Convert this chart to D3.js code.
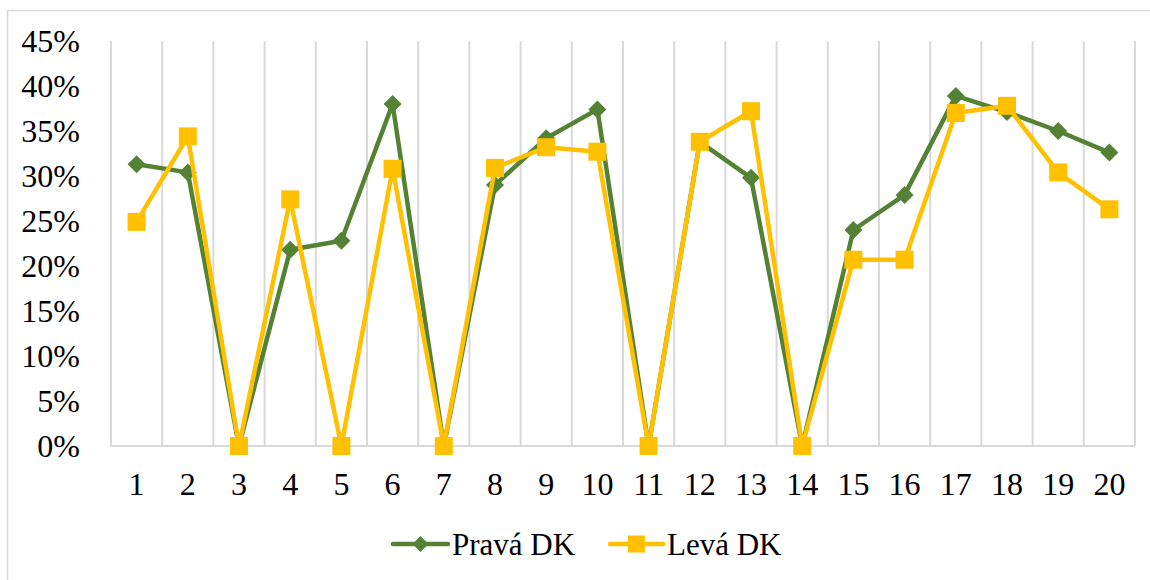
<!DOCTYPE html>
<html>
<head>
<meta charset="utf-8">
<script src="https://cdn.jsdelivr.net/npm/d3@7"></script>
<style>
  html, body { margin: 0; padding: 0; background: #fff; }
  svg { display: block; }
  text { font-family: "Liberation Serif", "Times New Roman", serif; fill: #000; }
</style>
</head>
<body>
<svg id="chart" width="1150" height="580"></svg>
<script>
const categories = ["1","2","3","4","5","6","7","8","9","10","11","12","13","14","15","16","17","18","19","20"];
const pravaDK = [31.3, 30.4, 0, 21.8, 22.8, 38.0, 0, 29.0, 34.2, 37.4, 0, 33.8, 29.8, 0, 24.0, 27.9, 38.9, 37.1, 35.0, 32.6];
const levaDK  = [24.9, 34.4, 0, 27.4, 0, 30.8, 0, 30.9, 33.2, 32.7, 0, 33.8, 37.2, 0, 20.7, 20.7, 37.0, 37.8, 30.4, 26.3];
const yTicks = [0, 5, 10, 15, 20, 25, 30, 35, 40, 45];
const seriesNames = ["Pravá DK", "Levá DK"];

const svg = d3.select("#chart");
const pLeft = 111, pRight = 1135, pTop = 41, pBottom = 446;
const green = "#548235", yellow = "#FFC000", grid = "#D9D9D9";

// chart border
svg.append("rect").attr("x", 7.5).attr("y", 10.5).attr("width", 1200).attr("height", 700)
  .attr("fill", "none").attr("stroke", grid).attr("stroke-width", 1.5);

const x = d3.scaleBand().domain(categories).range([pLeft, pRight]).padding(0);
const y = d3.scaleLinear().domain([0, 45]).range([pBottom, pTop]);

// vertical gridlines at category boundaries
const bounds = categories.map(c => x(c)).concat([pRight]);
svg.append("g").selectAll("line").data(bounds).join("line")
  .attr("x1", d => d).attr("x2", d => d).attr("y1", pTop).attr("y2", pBottom)
  .attr("stroke", grid).attr("stroke-width", 2);

// x axis line
svg.append("line").attr("x1", pLeft).attr("x2", pRight).attr("y1", pBottom).attr("y2", pBottom)
  .attr("stroke", grid).attr("stroke-width", 2);

// y axis labels
const yAxis = d3.axisLeft(y).tickValues(yTicks).tickFormat(d => d + "%").tickSize(0).tickPadding(0);
const gy = svg.append("g").attr("transform", "translate(80,0)").call(yAxis);
gy.select(".domain").remove();
gy.selectAll("text").attr("font-size", 32).attr("font-family", "Liberation Serif").attr("fill", "#000").attr("dy", "0.33em");

// x axis labels
const xAxis = d3.axisBottom(x).tickSize(0).tickPadding(0);
const gx = svg.append("g").attr("transform", `translate(0,${pBottom})`).call(xAxis);
gx.select(".domain").remove();
gx.selectAll("text").attr("font-size", 32).attr("font-family", "Liberation Serif").attr("fill", "#000").attr("dy", null).attr("y", 49);

const cx = c => x(c) + x.bandwidth() / 2;
const line = d3.line().x((d, i) => cx(categories[i])).y(d => y(d));

function diamond(g, px, py, r, color) {
  g.append("path").attr("d", `M${px},${py - r}L${px + r},${py}L${px},${py + r}L${px - r},${py}Z`).attr("fill", color);
}
function square(g, px, py, s, color) {
  g.append("rect").attr("x", px - s / 2).attr("y", py - s / 2).attr("width", s).attr("height", s).attr("fill", color);
}

// green series
const gG = svg.append("g");
gG.append("path").datum(pravaDK).attr("d", line).attr("fill", "none").attr("stroke", green)
  .attr("stroke-width", 4.5).attr("stroke-linejoin", "round");
pravaDK.forEach((v, i) => diamond(gG, cx(categories[i]), y(v), 9, green));

// yellow series
const gY = svg.append("g");
gY.append("path").datum(levaDK).attr("d", line).attr("fill", "none").attr("stroke", yellow)
  .attr("stroke-width", 4.5).attr("stroke-linejoin", "round");
levaDK.forEach((v, i) => square(gY, cx(categories[i]), y(v), 18, yellow));

// legend
const lg = svg.append("g");
const ly = 544;
lg.append("line").attr("x1", 393).attr("x2", 448).attr("y1", ly).attr("y2", ly).attr("stroke", green).attr("stroke-width", 4.5).attr("stroke-linecap", "round");
diamond(lg, 420.5, ly, 8, green);
lg.append("text").attr("x", 452).attr("y", 555).attr("font-size", 31).text(seriesNames[0]);
lg.append("line").attr("x1", 610).attr("x2", 663).attr("y1", ly).attr("y2", ly).attr("stroke", yellow).attr("stroke-width", 4.5).attr("stroke-linecap", "round");
square(lg, 636.5, ly, 17, yellow);
lg.append("text").attr("x", 667).attr("y", 555).attr("font-size", 31).text(seriesNames[1]);
</script>
</body>
</html>
